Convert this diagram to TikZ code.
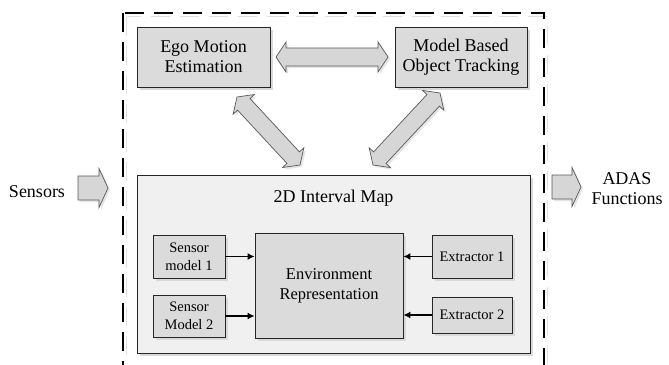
\documentclass[tikz,border=0pt]{standalone}
\usepackage{fontspec}
\setmainfont{Liberation Serif}
\usetikzlibrary{calc,shadows,arrows.meta}
\tikzset{
  boxshadow/.style={drop shadow={shadow xshift=2.5pt,shadow yshift=-2.5pt,opacity=1,fill=black!15}},
  gbox/.style={draw=black!85,line width=0.9pt,fill=black!14,rectangle,inner sep=0pt,align=center,boxshadow},
  bigtxt/.style={font=\fontsize{18}{20}\selectfont},
  midtxt/.style={font=\fontsize{16.5}{20}\selectfont},
  smalltxt/.style={font=\fontsize{14.5}{18}\selectfont},
  blockarrow/.style={draw=black!65,line width=0.7pt,fill=black!16,line join=miter,
    drop shadow={shadow xshift=2pt,shadow yshift=-2pt,opacity=1,fill=black!10}},
  smallarrow/.style={draw=black,line width=1.2pt,-{Latex[length=7pt,width=7pt]}},
  outerdash/.style={draw=black,line width=1.6pt,dash pattern=on 19pt off 10pt}
}
\newcommand\dblarrow[4]{%
  \coordinate (da1) at ($(#1)!10pt!(#2)$);
  \coordinate (da2) at ($(#2)!10pt!(#1)$);
  \draw[blockarrow] (#1) -- ($(da1)!#4!90:(#2)$) -- ($(da1)!#3!90:(#2)$)
    -- ($(da2)!#3!-90:(#1)$) -- ($(da2)!#4!-90:(#1)$) -- (#2)
    -- ($(da2)!#4!90:(#1)$) -- ($(da2)!#3!90:(#1)$)
    -- ($(da1)!#3!-90:(#2)$) -- ($(da1)!#4!-90:(#2)$) -- cycle;}
\newcommand\sglarrow[4]{%
  \coordinate (sa) at ($(#2)!9pt!(#1)$);
  \draw[blockarrow] ($(#1)!#3!90:(#2)$) -- ($(sa)!#3!-90:(#1)$) -- ($(sa)!#4!-90:(#1)$)
    -- (#2) -- ($(sa)!#4!90:(#1)$) -- ($(sa)!#3!90:(#1)$) -- ($(#1)!#3!-90:(#2)$) -- cycle;}
\begin{document}
\begin{tikzpicture}[x=1pt,y=-1pt]
\useasboundingbox (0,0) rectangle (669,364);
\clip (0,0) rectangle (669,364);
\fill[white] (0,0) rectangle (669,364);
% outer dashed frame
\draw[outerdash,draw=black!12] (126.5,16.5) rectangle (547.5,400);
\draw[outerdash] (123,13) rectangle (544,400);
% top boxes
\node[gbox,bigtxt,minimum width=133pt,minimum height=60pt] (ego) at (203.5,57) {Ego Motion\\Estimation};
\node[gbox,bigtxt,minimum width=132pt,minimum height=60pt] (mbot) at (461,57) {Model Based\\Object Tracking};
% map
\node[draw=black!85,line width=1pt,fill=black!6,minimum width=393pt,minimum height=178pt,inner sep=0pt,boxshadow] (map) at (333.5,264) {};
\node[bigtxt] (maptitle) at (333.5,198) {2D Interval Map};
\node[gbox,smalltxt,minimum width=72pt,minimum height=43pt] (sm1) at (189,256.5) {Sensor\\model 1};
\node[gbox,smalltxt,minimum width=72pt,minimum height=42pt] (sm2) at (189,316) {Sensor\\Model 2};
\node[gbox,midtxt,minimum width=148pt,minimum height=105pt] (env) at (329,285.5) {Environment\\Representation};
\node[gbox,smalltxt,minimum width=80pt,minimum height=43pt] (ex1) at (472,256.5) {Extractor 1};
\node[gbox,smalltxt,minimum width=80pt,minimum height=36pt] (ex2) at (472,315) {Extractor 2};
\draw[smallarrow] (sm1.east) -- (sm1.east -| env.west);
\draw[smallarrow] (sm2.east) -- (sm2.east -| env.west);
\draw[smallarrow] (ex1.west) -- (ex1.west -| env.east);
\draw[smallarrow] (ex2.west) -- (ex2.west -| env.east);
% block arrows
\coordinate (h1) at (276,57); \coordinate (h2) at (388,57);
\dblarrow{h1}{h2}{9pt}{15pt}
\coordinate (l1) at (237,97); \coordinate (l2) at (300,165);
\dblarrow{l1}{l2}{8.5pt}{14.5pt}
\coordinate (r1) at (440,93); \coordinate (r2) at (373,165);
\dblarrow{r1}{r2}{8.5pt}{14.5pt}
% inputs / outputs
\node[bigtxt] (sensors) at (37,192) {Sensors};
\coordinate (s1) at (78,188); \coordinate (s2) at (108,188);
\sglarrow{s1}{s2}{12pt}{19.5pt}
\coordinate (a1) at (552,187); \coordinate (a2) at (581,187);
\sglarrow{a1}{a2}{12pt}{19.5pt}
\node[bigtxt,align=center] (adas) at (627,189) {ADAS\\Functions};
\end{tikzpicture}
\end{document}
